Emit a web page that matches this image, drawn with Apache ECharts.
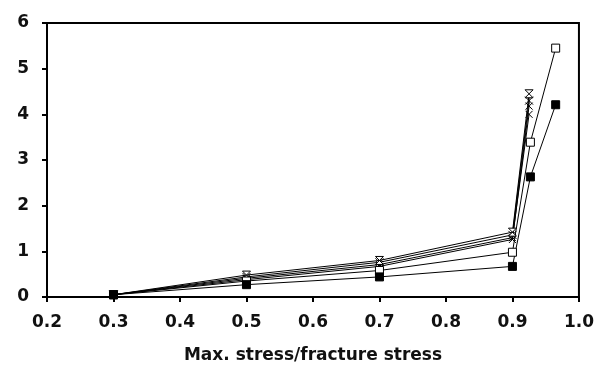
<!DOCTYPE html>
<html><head><meta charset="utf-8">
<script src="https://cdn.jsdelivr.net/npm/echarts@6/dist/echarts.min.js"></script>
<style>html,body{margin:0;padding:0;background:#fff}#c{width:597px;height:369px}</style>
</head><body><div id="c"></div>
<script>
// x positions
const xSquares = [0.3, 0.5, 0.7, 0.9, 0.927, 0.965];
const xCluster = [0.3, 0.5, 0.7, 0.9, 0.925];
// series values
const filledSquare = [0.05, 0.27, 0.44, 0.67, 2.63, 4.21];
const openSquare = [0.05, 0.35, 0.58, 0.98, 3.39, 5.45];
const hourglass = [0.05, 0.48, 0.80, 1.42, 4.45];
const asterisk = [0.05, 0.44, 0.76, 1.36, 4.30];
const crossA = [0.05, 0.41, 0.71, 1.30, 4.00];
const crossB = [0.05, 0.38, 0.67, 1.26, 4.18];
const xTitle = 'Max. stress/fracture stress';

const font = 'DejaVu Sans, Liberation Sans, sans-serif';
const pair = (xs, ys) => ys.map((v, i) => [xs[i], v]);
const X_PATH = 'path://M0,0 L10,10 M10,0 L0,10';
const AST_PATH = 'path://M0,0 L10,10 M10,0 L0,10 M5,0 L5,10';
const HG_PATH = 'path://M0,0 L10,0 L0,10 L10,10 Z';

function mk(name, xs, ys, symbol, size, fill) {
  return {
    name, type: 'line', data: pair(xs, ys), symbol, symbolSize: size,
    lineStyle: {color: '#000', width: 1},
    itemStyle: {color: fill, borderColor: '#000', borderWidth: 1},
    emphasis: {disabled: true}, animation: false
  };
}

const chart = echarts.init(document.getElementById('c'));
chart.setOption({
  animation: false,
  grid: {left: 47, right: 17, top: 23, bottom: 68, show: true, borderColor: '#000', borderWidth: 2, backgroundColor: 'transparent'},
  xAxis: {
    type: 'value', min: 0.2, max: 1.0, interval: 0.1,
    name: xTitle, nameLocation: 'middle', nameGap: 50,
    nameTextStyle: {fontFamily: font, fontSize: 17, fontWeight: 'bold', color: '#111'},
    axisLine: {show: true, lineStyle: {color: '#000', width: 2}},
    axisTick: {show: true, length: 5, lineStyle: {color: '#000', width: 2}},
    axisLabel: {margin: 17, fontFamily: font, fontSize: 17, fontWeight: 'bold', color: '#111', formatter: v => v.toFixed(1)},
    splitLine: {show: false}
  },
  yAxis: {
    type: 'value', min: 0, max: 6, interval: 1,
    axisLine: {show: true, lineStyle: {color: '#000', width: 2}},
    axisTick: {show: true, length: 5, lineStyle: {color: '#000', width: 2}},
    axisLabel: {margin: 18, fontFamily: font, fontSize: 17, fontWeight: 'bold', color: '#111'},
    splitLine: {show: false}
  },
  series: [
    mk('crossB', xCluster, crossB, X_PATH, 7, '#000'),
    mk('crossA', xCluster, crossA, X_PATH, 7, '#000'),
    mk('asterisk', xCluster, asterisk, AST_PATH, 8, '#000'),
    mk('hourglass', xCluster, hourglass, HG_PATH, 8, '#fff'),
    mk('openSquare', xSquares, openSquare, 'rect', 8, '#fff'),
    mk('filledSquare', xSquares, filledSquare, 'rect', 8, '#000')
  ]
});
</script></body></html>
